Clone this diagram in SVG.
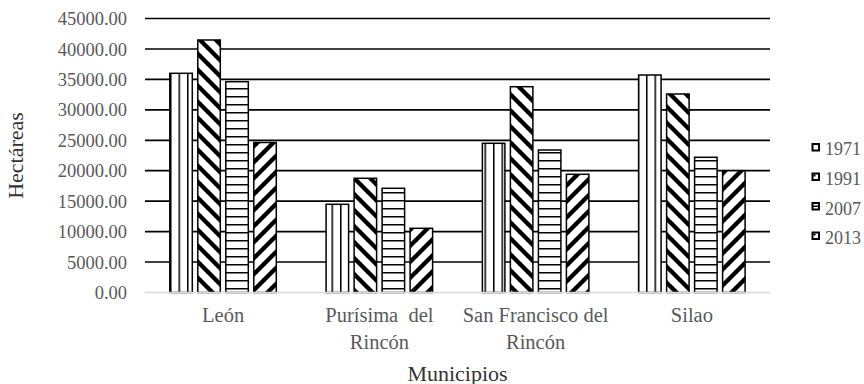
<svg xmlns="http://www.w3.org/2000/svg" width="864" height="384" viewBox="0 0 864 384">
<style>
text{font-family:'Liberation Serif','DejaVu Serif',serif}
.grid{stroke:#000;stroke-width:1.7;fill:none}
.axis{stroke:#d9d9d9;stroke-width:1.5;fill:none}
.ytick{font-size:18.5px;fill:#595959;text-anchor:end}
.cat{font-size:20.5px;fill:#595959;text-anchor:middle}
.title{font-size:22px;fill:#333;text-anchor:middle}
.leg{font-size:18px;fill:#595959}
.bar{stroke:#000;stroke-width:1.5}
.lbox{stroke:#000;stroke-width:2;fill:#fff}
.b71{fill:url(#p1971)}
.b91{fill:url(#p1991)}
.b07{fill:url(#p2007)}
.b13{fill:url(#p2013)}
</style>
<defs>
<pattern id="p1971" patternUnits="userSpaceOnUse" width="8.5" height="8">
<rect width="8.5" height="8" fill="#fff"/>
<rect x="0" y="0" width="1.5" height="8" fill="#000"/>
</pattern>
<pattern id="p2007" patternUnits="userSpaceOnUse" width="8" height="8">
<rect width="8" height="8" fill="#fff"/>
<rect x="0" y="0" width="8" height="1.5" fill="#000"/>
</pattern>
<pattern id="p1991" patternUnits="userSpaceOnUse" width="16" height="16">
<rect width="16" height="16" fill="#fff"/>
<path d="M-4,-4 L20,20 M-4,12 L4,20 M12,-4 L20,4" stroke="#000" stroke-width="4.3"/>
</pattern>
<pattern id="p2013" patternUnits="userSpaceOnUse" width="16" height="16">
<rect width="16" height="16" fill="#fff"/>
<path d="M-4,20 L20,-4 M-4,4 L4,-4 M12,20 L20,12" stroke="#000" stroke-width="4.3"/>
</pattern>
</defs>
<rect width="864" height="384" fill="#fff"/>

<g id="gridlines">
<line class="grid" x1="145" y1="18.5" x2="770" y2="18.5"/>
<line class="grid" x1="145" y1="49" x2="770" y2="49"/>
<line class="grid" x1="145" y1="79.4" x2="770" y2="79.4"/>
<line class="grid" x1="145" y1="109.9" x2="770" y2="109.9"/>
<line class="grid" x1="145" y1="140.3" x2="770" y2="140.3"/>
<line class="grid" x1="145" y1="170.7" x2="770" y2="170.7"/>
<line class="grid" x1="145" y1="201.2" x2="770" y2="201.2"/>
<line class="grid" x1="145" y1="231.6" x2="770" y2="231.6"/>
<line class="grid" x1="145" y1="262" x2="770" y2="262"/>
</g>

<g id="y-axis-labels" font-family="Liberation Serif, serif">
<text class="ytick" x="127" y="25">45000.00</text>
<text class="ytick" x="127" y="55.5">40000.00</text>
<text class="ytick" x="127" y="86">35000.00</text>
<text class="ytick" x="127" y="116.4">30000.00</text>
<text class="ytick" x="127" y="146.8">25000.00</text>
<text class="ytick" x="127" y="177.2">20000.00</text>
<text class="ytick" x="127" y="207.7">15000.00</text>
<text class="ytick" x="127" y="238.1">10000.00</text>
<text class="ytick" x="127" y="268.5">5000.00</text>
<text class="ytick" x="127" y="299">0.00</text>
</g>

<g id="leon">
<rect class="bar b71" x="169.8" y="73.3" width="22.5" height="219.2"/>
<rect class="bar b91" x="197.8" y="40" width="22.5" height="252.5"/>
<rect class="bar b07" x="225.8" y="81.7" width="22.5" height="210.8"/>
<rect class="bar b13" x="253.8" y="142.5" width="22.5" height="150"/>
</g>
<g id="purisima">
<rect class="bar b71" x="326.1" y="204.3" width="22.5" height="88.2"/>
<rect class="bar b91" x="354.1" y="178.3" width="22.5" height="114.2"/>
<rect class="bar b07" x="382.1" y="188.3" width="22.5" height="104.2"/>
<rect class="bar b13" x="410.1" y="228.3" width="22.5" height="64.2"/>
</g>
<g id="san-francisco">
<rect class="bar b71" x="482.4" y="143.3" width="22.5" height="149.2"/>
<rect class="bar b91" x="510.4" y="86.7" width="22.5" height="205.8"/>
<rect class="bar b07" x="538.4" y="150" width="22.5" height="142.5"/>
<rect class="bar b13" x="566.4" y="174.3" width="22.5" height="118.2"/>
</g>
<g id="silao">
<rect class="bar b71" x="638.6" y="75" width="22.5" height="217.5"/>
<rect class="bar b91" x="666.6" y="94" width="22.5" height="198.5"/>
<rect class="bar b07" x="694.6" y="157.3" width="22.5" height="135.2"/>
<rect class="bar b13" x="722.6" y="170.7" width="22.5" height="121.8"/>
</g>

<g id="x-axis">
<line class="axis" x1="145" y1="292.5" x2="770" y2="292.5"/>
</g>

<g id="category-labels" font-family="Liberation Serif, serif">
<text class="cat" x="223.1" y="322">León</text>
<text class="cat" x="379.4" y="322" xml:space="preserve">Purísima  del</text>
<text class="cat" x="379.4" y="348.5">Rincón</text>
<text class="cat" x="535.6" y="322">San Francisco del</text>
<text class="cat" x="535.6" y="348.5">Rincón</text>
<text class="cat" x="691.9" y="322">Silao</text>
</g>

<g id="axis-titles" font-family="Liberation Serif, serif">
<text class="title" x="457.5" y="380.5">Municipios</text>
<text class="title" transform="translate(23,155.5) rotate(-90)" x="0" y="0">Hectáreas</text>
</g>

<g id="legend" font-family="Liberation Serif, serif">
<g id="legend-1971">
<rect class="lbox" x="812.5" y="144" width="6.5" height="6.5"/>
<text class="leg" x="825" y="155">1971</text>
</g>
<g id="legend-1991">
<rect class="lbox" x="812.5" y="173.5" width="6.5" height="6.5"/>
<path d="M813.5,174.5 h2 v2 h-2 z" fill="#000"/>
<text class="leg" x="825" y="184.8">1991</text>
</g>
<g id="legend-2007">
<rect class="lbox" x="812.5" y="203" width="6.5" height="6.5"/>
<line x1="812.5" y1="206.25" x2="819" y2="206.25" stroke="#000" stroke-width="1.5"/>
<text class="leg" x="825" y="214.5">2007</text>
</g>
<g id="legend-2013">
<rect class="lbox" x="812.5" y="232.5" width="6.5" height="6.5"/>
<path d="M813.5,233.5 h2 v2 h-2 z" fill="#000"/>
<text class="leg" x="825" y="244.2">2013</text>
</g>
</g>
</svg>
